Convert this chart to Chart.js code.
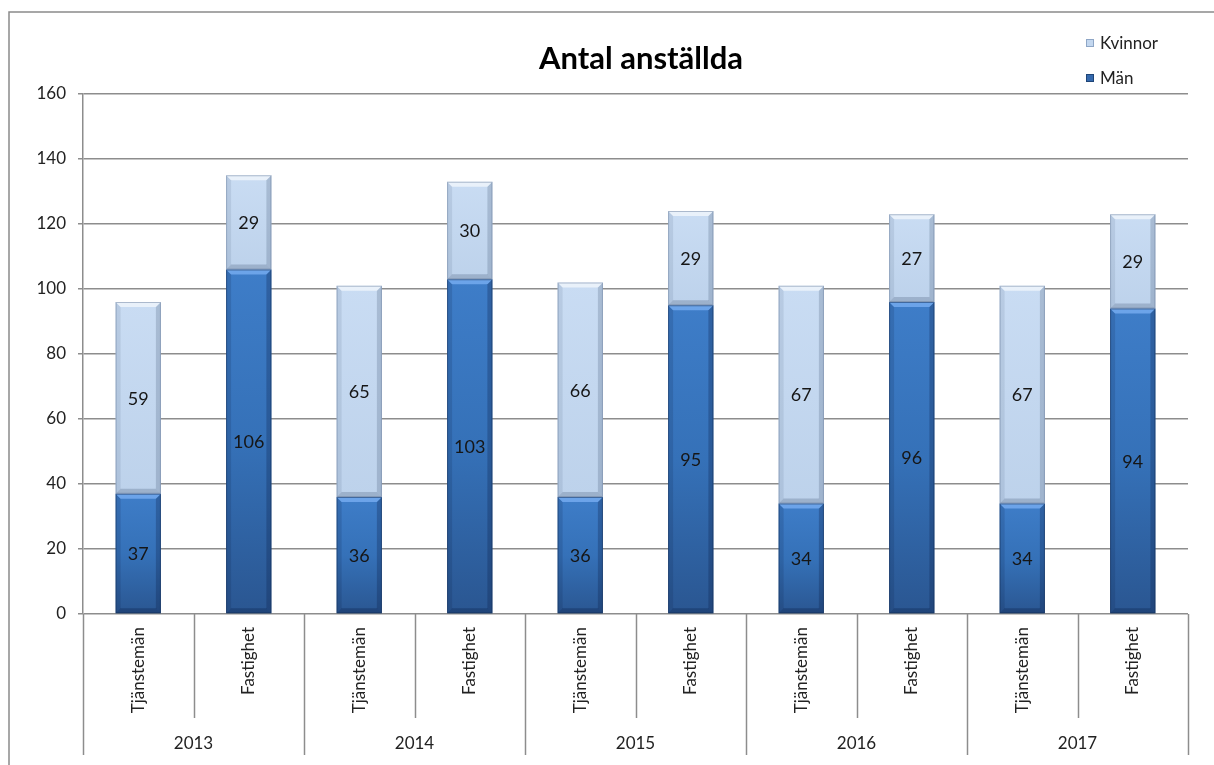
<!DOCTYPE html>
<html>
<head>
<meta charset="utf-8">
<title>Antal anställda</title>
<script src="https://cdn.jsdelivr.net/npm/chart.js@4/dist/chart.umd.min.js"></script>
<style>
  html, body { margin: 0; padding: 0; background: #ffffff; }
  #wrap { width: 1214px; height: 765px; position: relative; }
</style>
</head>
<body>
<div id="wrap"><canvas id="chart" width="1214" height="765"></canvas></div>
<script>
// Employees per year, split by staff group and gender
const years = ['2013', '2014', '2015', '2016', '2017'];
const groups = ['Tjänstemän', 'Fastighet'];
const categories = ['Tjänstemän', 'Fastighet', 'Tjänstemän', 'Fastighet', 'Tjänstemän',
                    'Fastighet', 'Tjänstemän', 'Fastighet', 'Tjänstemän', 'Fastighet'];
const men   = [37, 106, 36, 103, 36, 95, 34, 96, 34, 94];
const women = [59,  29, 65,  30, 66, 29, 67, 27, 67, 29];
const yTicks = [0, 20, 40, 60, 80, 100, 120, 140, 160];

const seriesNames = ['Män', 'Kvinnor'];
const FONT = 'Lato, "Open Sans", sans-serif';
const GRID = '#8d8d8d';
const TEXT = '#222222';

// vertical gradient for one stacked segment, from the y scale
function segmentFill(ctx, dsIndex) {
  const chart = ctx.chart;
  if (!chart.chartArea || !chart.scales.y) return dsIndex === 0 ? '#3469ad' : '#c3d7ef';
  const i = ctx.dataIndex;
  const y = chart.scales.y;
  const lo = dsIndex === 0 ? 0 : men[i];
  const hi = dsIndex === 0 ? men[i] : men[i] + women[i];
  const top = y.getPixelForValue(hi);
  const bot = y.getPixelForValue(lo);
  const g = chart.ctx.createLinearGradient(0, top, 0, bot);
  if (dsIndex === 0) {
    g.addColorStop(0, '#3e7dc8');
    g.addColorStop(0.5, '#3571b8');
    g.addColorStop(1, '#2a5691');
  } else {
    g.addColorStop(0, '#c9dcf3');
    g.addColorStop(1, '#bdd2eb');
  }
  return g;
}

// bevelled edges on each bar segment
const bevelPlugin = {
  id: 'bevel',
  afterDatasetsDraw(chart) {
    const c = chart.ctx;
    chart.data.datasets.forEach((ds, d) => {
      const meta = chart.getDatasetMeta(d);
      meta.data.forEach(bar => {
        const p = bar.getProps(['x', 'y', 'base', 'width'], true);
        const x0 = p.x - p.width / 2, x1 = p.x + p.width / 2;
        const t = Math.min(p.y, p.base), b = Math.max(p.y, p.base);
        const e = 5;
        const poly = (pts, fill) => {
          c.beginPath();
          c.moveTo(pts[0][0], pts[0][1]);
          for (let k = 1; k < pts.length; k++) c.lineTo(pts[k][0], pts[k][1]);
          c.closePath();
          c.fillStyle = fill;
          c.fill();
        };
        c.save();
        const dark = d === 0 ? 'rgba(10,30,70,' : 'rgba(40,60,90,';
        // left
        poly([[x0, t], [x0 + e, t + e], [x0 + e, b - e], [x0, b]], dark + (d === 0 ? '0.16)' : '0.10)'));
        // right
        poly([[x1, t], [x1 - e, t + e], [x1 - e, b - e], [x1, b]], dark + (d === 0 ? '0.28)' : '0.20)'));
        // bottom
        poly([[x0, b], [x0 + e, b - e], [x1 - e, b - e], [x1, b]], dark + (d === 0 ? '0.32)' : '0.22)'));
        // top highlight
        poly([[x0, t], [x1, t], [x1 - e, t + e], [x0 + e, t + e]], d === 0 ? 'rgba(140,190,255,0.6)' : 'rgba(255,255,255,0.6)');
        // thin outline
        c.strokeStyle = d === 0 ? 'rgba(20,45,85,0.5)' : 'rgba(110,130,160,0.5)';
        c.lineWidth = 1;
        c.strokeRect(x0 + 0.5, t + 0.5, p.width - 1, b - t - 1);
        c.restore();
      });
    });
  }
};

// value labels centred on each segment
const valueLabelPlugin = {
  id: 'valueLabels',
  afterDatasetsDraw(chart) {
    const c = chart.ctx;
    c.save();
    c.font = '18px ' + FONT;
    c.fillStyle = '#161616';
    c.textAlign = 'center';
    c.textBaseline = 'middle';
    chart.data.datasets.forEach((ds, d) => {
      chart.getDatasetMeta(d).data.forEach((bar, i) => {
        const p = bar.getProps(['x', 'y', 'base'], true);
        c.fillText(String(ds.data[i]), p.x, (p.y + p.base) / 2 + 1);
      });
    });
    c.restore();
  }
};

// frame, title, legend and the two-level category axis
const decorPlugin = {
  id: 'decor',
  beforeDraw(chart) {
    const c = chart.ctx;
    c.save();
    c.fillStyle = '#ffffff';
    c.fillRect(0, 0, chart.width, chart.height);
    c.strokeStyle = '#8a8a8a';
    c.lineWidth = 1.5;
    c.strokeRect(9, 12, chart.width + 20, chart.height + 20);
    c.restore();
  },
  afterDraw(chart) {
    const c = chart.ctx;
    const xs = chart.scales.x;
    const area = chart.chartArea;
    c.save();

    // title
    c.font = 'bold 31px ' + FONT;
    c.fillStyle = '#000000';
    c.textAlign = 'center';
    c.textBaseline = 'middle';
    c.fillText('Antal anställda', 641, 59);

    // legend (top series first)
    const legendRows = [
      { name: seriesNames[1], y: 43, fill: '#c3d7ef', edge: '#8ea6c6' },
      { name: seriesNames[0], y: 78, fill: '#3469ad', edge: '#1f4577' }
    ];
    c.font = '17px ' + FONT;
    c.textAlign = 'left';
    legendRows.forEach(r => {
      c.fillStyle = r.edge;
      c.fillRect(1086, r.y - 4, 8, 8);
      c.fillStyle = r.fill;
      c.fillRect(1087, r.y - 3, 6, 6);
      c.fillStyle = TEXT;
      c.fillText(r.name, 1100, r.y + 1);
    });

    // category separators and year separators under the axis
    c.strokeStyle = GRID;
    c.lineWidth = 1.5;
    for (let k = 0; k <= categories.length; k++) {
      const bx = Math.round(xs.getPixelForValue(k - 0.5)) + 0.5;
      const len = k % groups.length === 0 ? 141 : 104;
      c.beginPath();
      c.moveTo(bx, area.bottom);
      c.lineTo(bx, area.bottom + len);
      c.stroke();
    }

    // rotated category labels
    c.font = '17px ' + FONT;
    c.fillStyle = TEXT;
    categories.forEach((lab, i) => {
      const cx = xs.getPixelForValue(i);
      c.save();
      c.translate(cx, area.bottom + 13);
      c.rotate(-Math.PI / 2);
      c.textAlign = 'right';
      c.textBaseline = 'middle';
      c.fillText(lab, 0, 0);
      c.restore();
    });

    // year labels
    c.textAlign = 'center';
    c.textBaseline = 'middle';
    years.forEach((yr, j) => {
      const cx = xs.getPixelForValue(j * groups.length + (groups.length - 1) / 2);
      c.fillText(yr, cx, area.bottom + 130);
    });
    c.restore();
  }
};

new Chart(document.getElementById('chart'), {
  type: 'bar',
  data: {
    labels: categories,
    datasets: [
      {
        label: seriesNames[0],
        data: men,
        backgroundColor: ctx => segmentFill(ctx, 0),
        borderWidth: 0,
        barPercentage: 0.41,
        categoryPercentage: 1
      },
      {
        label: seriesNames[1],
        data: women,
        backgroundColor: ctx => segmentFill(ctx, 1),
        borderWidth: 0,
        barPercentage: 0.41,
        categoryPercentage: 1
      }
    ]
  },
  options: {
    responsive: false,
    animation: false,
    events: [],
    layout: { padding: { left: 0, top: 94, right: 26, bottom: 0 } },
    plugins: {
      legend: { display: false },
      title: { display: false },
      tooltip: { enabled: false }
    },
    scales: {
      x: {
        stacked: true,
        offset: true,
        grid: { display: false },
        border: { display: false },
        ticks: { display: false },
        afterFit(scale) { scale.height = 151; }
      },
      y: {
        stacked: true,
        min: yTicks[0],
        max: yTicks[yTicks.length - 1],
        afterBuildTicks(scale) { scale.ticks = yTicks.map(v => ({ value: v })); },
        grid: { color: GRID, lineWidth: 1.5, tickLength: 5, drawTicks: true },
        border: { display: true, color: GRID, width: 1.5 },
        ticks: {
          padding: 12,
          color: TEXT,
          font: { family: FONT, size: 17 }
        },
        afterFit(scale) { scale.width = 83; }
      }
    }
  },
  plugins: [decorPlugin, bevelPlugin, valueLabelPlugin]
});
</script>
</body>
</html>
